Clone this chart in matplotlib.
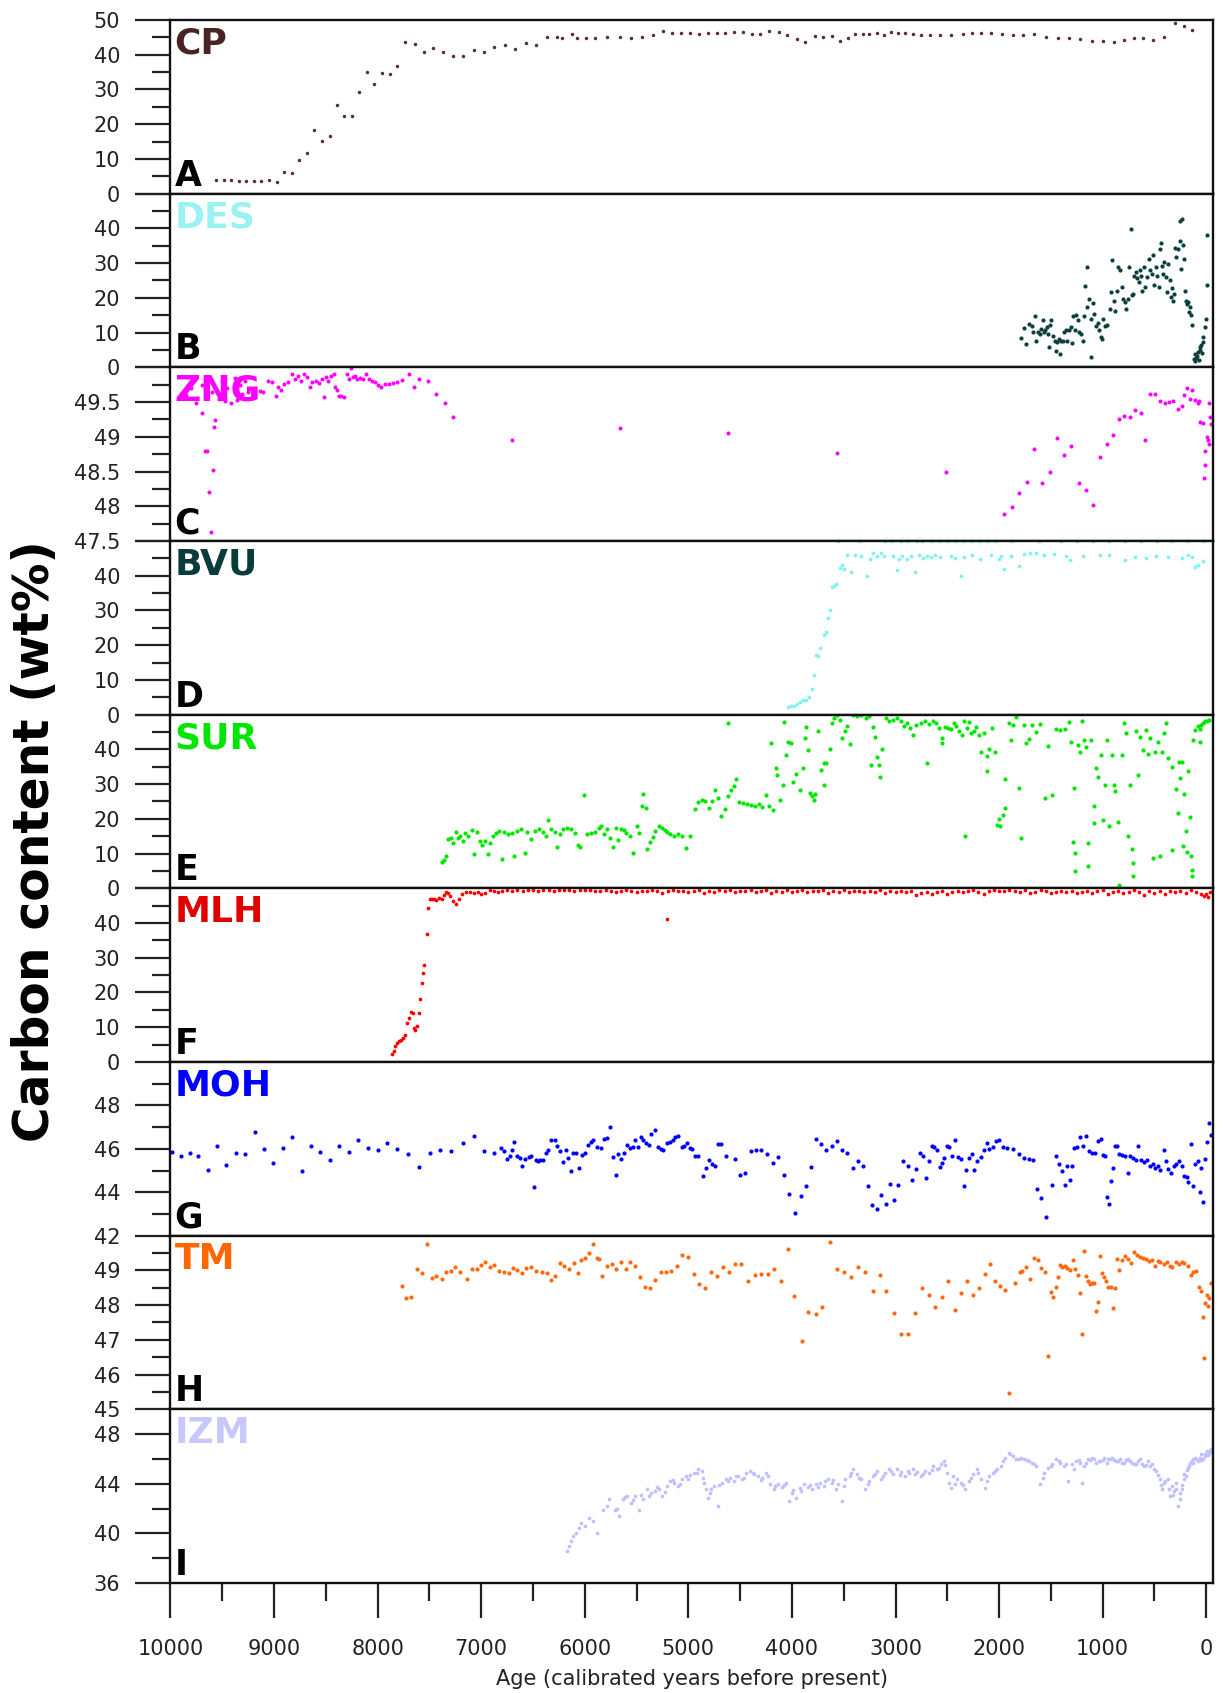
import matplotlib
matplotlib.use("Agg")
import matplotlib.pyplot as plt
from matplotlib.ticker import FixedLocator

plt.rcParams["font.family"] = ["DejaVu Sans"]

# ---------------------------------------------------------------- data
# age in calibrated years BP, carbon content in wt%

cp_age = [9561, 9488, 9416, 9343, 9270, 9198, 9125, 9045, 8969, 8904, 8827, 8759, 8682,
          8610, 8541, 8464, 8396, 8323, 8250, 8182, 8105, 8037, 7960, 7884, 7811, 7731,
          7643, 7555, 7464, 7368, 7273, 7177, 7074, 6975, 6872, 6772, 6669, 6570, 6470,
          6367, 6268, 6222, 6127, 6077, 5989, 5905,
          5787, 5664, 5549, 5449, 5345, 5249, 5161, 5073, 4980, 4896, 4815, 4727, 4643,
          4558, 4474, 4389, 4305, 4220, 4128, 4044, 3955, 3871, 3782, 3702, 3617, 3533,
          3456, 3387, 3318, 3252, 3183, 3114, 3041, 2976, 2907, 2830, 2753, 2669, 2573,
          2465, 2346, 2262, 2170, 2074, 1974, 1870, 1766, 1659, 1548, 1436, 1329, 1217,
          1102, 995, 895, 795, 699, 607, 515, 403, 303, 219, 134]
cp_carbon = [4.0, 3.9, 3.9, 3.7, 3.5, 3.6, 3.6, 3.9, 3.4, 6.3, 5.8, 9.8, 11.8,
             18.3, 15.1, 16.7, 25.6, 22.3, 22.3, 29.3, 35.1, 31.7, 34.6, 34.4, 36.7, 43.7,
             43.0, 40.8, 41.9, 40.7, 39.6, 39.6, 41.5, 40.7, 42.2, 42.9, 41.6, 43.3, 42.9,
             45.2, 45.2, 44.7, 45.9, 44.7, 44.7, 44.7,
             45.2, 45.2, 44.9, 45.1, 45.8, 46.8, 46.2, 46.2, 46.2, 45.9, 46.3, 46.3, 46.3,
             46.4, 46.4, 45.9, 45.9, 46.8, 46.6, 45.7, 44.4, 43.8, 45.4, 45.0, 45.4, 44.0,
             44.8, 45.9, 46.1, 46.1, 46.2, 45.8, 46.4, 46.2, 46.3, 45.9, 45.6, 45.6, 45.6,
             45.6, 46.1, 46.3, 46.3, 46.3, 46.0, 45.7, 45.8, 45.9, 45.2, 44.9, 44.7, 44.4,
             43.9, 43.9, 43.8, 44.3, 44.7, 44.7, 44.2, 45.1, 49.0, 48.3, 47.1]

des_age = [1786, 1763, 1736, 1716, 1686, 1670, 1651, 1640, 1624, 1609, 1594, 1578, 1571,
           1555, 1540, 1524, 1509, 1494, 1517, 1478, 1463, 1455, 1440, 1425, 1409, 1402,
           1386, 1371, 1356, 1340, 1325, 1309, 1294, 1286, 1271, 1256, 1240, 1225, 1210,
           1194, 1179, 1171, 1156, 1148, 1133, 1117, 1110, 1094, 1079, 1064, 1048, 1033,
           1018, 1002, 995, 979, 956, 933, 918, 910, 895, 879, 864, 849, 833, 818, 803,
           787, 772, 757, 741, 730, 718, 703, 695, 680, 664, 649, 641, 626, 618, 603, 588,
           572, 557, 541, 526, 511, 503, 488, 472, 457, 449, 434, 426, 419, 403, 388, 380,
           365, 349, 342, 334, 319, 311, 303, 288, 273, 257, 250, 242, 234, 227, 219, 204,
           196, 188, 173, 165, 157, 150, 134, 119, 111, 104, 96, 88, 81, 73, 65, 58, 50,
           42, 35, 27, 12, 4, -4, -12]
des_carbon = [8.5, 11.2, 6.7, 12.5, 12.0, 10.1, 14.9, 7.7, 10.3, 9.6, 11.1, 13.5, 10.1,
              10.8, 11.5, 9.6, 12.3, 13.7, 5.8, 9.1, 7.7, 4.6, 7.2, 8.2, 3.8, 7.5,
              7.7, 10.1, 10.6, 7.5, 10.8, 11.7, 6.9, 14.9, 10.6, 15.2, 13.5, 10.1, 9.6,
              7.5, 14.9, 23.3, 17.5, 28.8, 19.7, 3.1, 13.9, 18.5, 15.4, 12.0, 12.7, 10.6,
              8.7, 8.2, 13.9, 12.0, 12.3, 16.8, 21.6, 30.8, 19.2, 16.3, 22.1, 28.8, 27.9,
              23.1, 19.7, 18.8, 16.8, 19.7, 28.8, 39.9, 20.7, 21.2, 26.4, 27.4, 25.8, 24.5,
              27.9, 26.4, 22.1, 28.8, 23.1, 26.0, 31.3, 27.9, 26.9, 32.2, 23.6, 28.8, 26.4,
              23.1, 34.1, 35.9, 29.3, 26.9, 30.3, 26.0, 21.6, 29.8, 25.0, 20.2, 22.9, 19.2,
              21.2, 34.4, 31.7, 34.1, 36.3, 42.1, 28.4, 42.8, 35.1, 31.3, 22.1, 19.2, 18.1,
              18.8, 15.9, 17.3, 15.2, 12.3, 2.4, 1.8, 3.8, 2.7, 3.2, 4.3, 2.1, 5.8, 4.9,
              6.3, 4.0, 7.2, 8.7, 11.7, 13.9, 23.6, 38.0]

zng_age = [9850, 9800, 9700, 9600, 9500, 9450, 9380, 9330, 9280,
           9756, 9694, 9668, 9649, 9591, 9572, 9584, 9629, 9610,
           9534, 9477, 9419, 9362, 9305, 9247, 9190, 9133, 9102, 9056, 9018, 8980, 8961,
           8934, 8904, 8865, 8827, 8797, 8770, 8743, 8713, 8682, 8655, 8636, 8598, 8568,
           8541, 8522, 8503, 8476, 8453, 8426, 8407, 8388, 8377, 8350, 8323, 8292, 8273,
           8254, 8235, 8216, 8197, 8170, 8140, 8109, 8082, 8056, 8025, 7995, 7968, 7930,
           7891, 7853, 7815, 7765, 7700, 7651, 7597, 7509, 7433, 7349, 7269, 6707,
           5664, 4616, 3567, 2515, 1955, 1878, 1805, 1732, 1659, 1586, 1513, 1444, 1371,
           1302, 1233, 1164, 1098, 1029, 960, 899, 845, 791, 737, 684, 634, 588, 541, 495,
           445, 396, 357, 323, 276, 238, 211, 188, 157, 134, 111, 84, 73, -23, 58, 35,
           -38, -50, -4, -19, -31, 12, 8, 19]
zng_carbon = [49.60, 49.70, 49.75, 49.65, 49.80, 49.70, 49.85, 49.75, 49.80,
              49.48, 49.34, 48.80, 48.80, 48.52, 49.24, 49.14, 48.21, 47.63,
              49.55, 49.52, 49.49, 49.53, 49.62, 49.64, 49.69, 49.66, 49.64, 49.81, 49.79,
              49.58, 49.71, 49.68, 49.76, 49.79, 49.91, 49.83, 49.88, 49.81, 49.90, 49.86,
              49.72, 49.79, 49.81, 49.77, 49.83, 49.57, 49.86, 49.80, 49.88, 49.90, 49.72,
              49.68, 49.58, 49.58, 49.57, 49.90, 49.83, 49.99, 49.86, 49.87, 49.83, 49.85,
              49.83, 49.90, 49.83, 49.80, 49.79, 49.74, 49.71, 49.76, 49.76, 49.77, 49.79,
              49.82, 49.90, 49.72, 49.83, 49.80, 49.61, 49.49, 49.28, 48.96,
              49.12, 49.06, 48.77, 48.50, 47.89, 47.99, 48.19, 48.35, 48.82, 48.33, 48.50,
              48.98, 48.74, 48.87, 48.34, 48.23, 48.02, 48.71, 48.90, 49.03, 49.25, 49.30,
              49.28, 49.38, 49.34, 48.95, 49.61, 49.61, 49.52, 49.49, 49.50, 49.52, 49.40,
              49.44, 49.60, 49.70, 49.54, 49.67, 49.53, 49.48, 49.52, 49.48, 49.21, 49.20,
              49.29, 49.19, 49.00, 48.95, 48.90, 48.80, 48.60, 48.40]

bvu_age = [4040, 4013, 3982, 3955, 3924, 3898, 3867, 3840, 3809, 3790, 3771, 3752, 3725,
           3694, 3675, 3656, 3636, 3617, 3590, 3571, 3540, 3521, 3494, 3464, 3425, 3387,
           3329, 3272, 3245, 3214, 3176, 3137, 3107, 3022, 2984, 2965, 2938, 2888, 2849,
           2811, 2772, 2734, 2696, 2657, 2619, 2569, 2465, 2427, 2369, 2339, 2266, 2185,
           2081, 2004, 1955, 1978, 1889, 1805, 1755, 1697, 1640, 1563, 1467, 1352, 1313,
           1187, 1025, 937, 783, 687, 584, 488, 372, 238, 173, 142, 111, 84, 27,
           3551, 3340, 3099, 3030, 2945, 2880, 2796, 2740, 2660, 2580, 2503, 2426, 2349,
           2273, 2196, 2120, 2043, 1880, 1613, 1401, 1248, 1094, 941, 787, 634, 480, 326,
           180, 20]
bvu_carbon = [2.1, 2.6, 2.6, 3.1, 3.6, 4.1, 4.3, 5.0, 7.4, 11.5, 17.1, 16.8, 19.3,
              22.9, 23.9, 27.8, 30.0, 36.7, 37.1, 37.7, 42.3, 43.2, 41.8, 46.1, 41.0, 46.1,
              45.6, 40.0, 44.9, 46.4, 45.6, 46.6, 45.6, 45.6, 41.6, 44.9, 45.8, 44.7, 45.6,
              41.0, 46.1, 45.2, 45.6, 45.4, 46.1, 45.4, 45.6, 45.2, 40.0, 45.4, 46.1, 44.7,
              46.1, 44.7, 41.8, 45.8, 45.6, 42.9, 46.3, 46.4, 46.6, 46.1, 46.3, 45.6, 44.5,
              45.6, 46.1, 46.1, 44.5, 45.4, 45.2, 45.8, 45.4, 45.2, 46.1, 45.4, 42.5, 43.2, 44.2,
              49.9, 49.9, 49.9, 49.9, 49.9, 49.9, 49.9, 49.9, 49.9, 49.9, 49.9, 49.9, 49.9,
              49.9, 49.9, 49.9, 49.9, 49.9, 49.9, 49.9, 49.9, 49.9, 49.9, 49.9, 49.9, 49.9,
              49.9, 49.9, 49.9]

sur_age = [7383, 7357, 7337, 7318, 7292, 7269, 7242, 7223, 7204, 7177, 7154, 7127, 7089,
           7070, 7040, 7013, 6994, 6963, 6937, 6917, 6887, 6860, 6833, 6803, 6784, 6746,
           6707, 6688, 6650, 6612, 6581, 6554, 6516, 6478, 6440, 6402, 6375, 6352, 6325,
           6287, 6268, 6237, 6210, 6172, 6134, 6096, 6069, 6046, 6008, 5981, 5943, 5905,
           5867,
           5844, 5817, 5787, 5756, 5729, 5702, 5679, 5652, 5626, 5603, 5564, 5530, 5499,
           5480, 5449, 5434, 5411, 5396, 5372, 5345, 5319, 5288, 5257, 5230, 5203, 5173,
           5134, 5096, 5058, 5019, 4980, 4934, 4904, 4873, 4835, 4796, 4769, 4742, 4712,
           4681, 4643, 4616, 4616, 4589, 4558, 4539, 4512, 4474, 4435, 4397, 4359, 4320,
           4289, 4251, 4220, 4182, 4205, 4155, 4144, 4116, 4090, 4078, 4059, 4040, 4013,
           3990, 3963, 3924, 3898, 3875, 3867, 3848, 3829, 3809, 3790, 3782, 3752, 3721,
           3694, 3667, 3694, 3636, 3617, 3590, 3567, 3540, 3521, 3490, 3464, 3437, 3406,
           3368, 3329, 3283, 3252, 3233, 3214, 3195, 3176, 3157, 3145, 3130, 3091, 3061,
           3022, 2984, 2945, 2915, 2888, 2861, 2830, 2799, 2753, 2696, 2715, 2677, 2638,
           2607, 2580, 2553, 2553, 2523, 2496, 2465, 2438, 2415, 2388, 2361, 2338, 2331,
           2312, 2292, 2273, 2246, 2223, 2196, 2170, 2146, 2120, 2120, 2101, 2070, 2043,
           2024, 2004, 1993, 1966, 1947, 1939, 1909, 1889, 1862, 1839, 1812, 1786, 1755,
           1736, 1709, 1678, 1648, 1602, 1555, 1525, 1486, 1455, 1409, 1363, 1325, 1302,
           1286, 1275, 1263, 1263, 1240, 1221, 1202, 1183, 1164, 1137, 1137, 1114, 1087,
           1087, 1064, 1045, 1018, 995, 979, 956, 941, 910, 891, 879, 852, 841, 814, 795,
           775, 757, 737, 718, 711, 703, 680, 660, 641, 610, 584, 565, 545, 518, 495, 468,
           449, 430, 411, 391, 365, 334, 326, 296, 276, 265, 250, 238, 227, 211, 200, 188,
           173, 161, 150, 142, 134, 123, 104, 84, 65, 46, 27, 8, -12, -31, 58]
sur_carbon = [7.7, 8.1, 9.3, 14.1, 14.6, 13.1, 16.2, 14.6, 15.2, 13.6, 16.0, 15.0, 16.8,
              9.8, 16.2, 13.6, 12.6, 13.6, 9.8, 13.1, 15.0, 16.0, 16.5, 8.3, 16.2, 15.5,
              16.0, 9.3, 16.5, 17.0, 10.3, 16.2, 14.1, 16.5, 17.0, 16.2, 15.2, 19.8, 17.0,
              16.2, 12.0, 15.5, 17.0, 17.4, 17.1, 15.8, 12.6, 12.0, 27.0, 15.5, 16.0, 16.2,
              17.4,
              18.0, 15.5, 17.0, 14.6, 11.9, 17.5, 13.9, 17.0, 16.8, 16.0, 15.2, 10.2, 17.8,
              16.0, 23.8, 27.2, 23.0, 11.4, 13.3, 14.9, 16.5, 17.8, 17.5, 16.8, 16.2, 15.5,
              15.2, 15.5, 15.2, 11.7, 15.2, 22.8, 24.8, 25.5, 25.0, 23.0, 25.0, 28.2, 25.9,
              20.9, 22.8, 47.6, 26.5, 28.2, 29.4, 31.4, 24.8, 24.6, 24.3, 24.0, 23.8, 24.3,
              23.3, 26.9, 23.8, 22.6, 41.8, 34.5, 32.5, 25.5, 29.6, 47.9, 38.5, 42.2, 41.8,
              30.6, 33.0, 28.2, 34.7, 43.2, 46.3, 39.8, 27.5, 26.5, 25.5, 27.2, 45.2, 34.0,
              36.0, 36.0, 29.6, 40.0, 47.6, 49.0, 49.8, 48.5, 43.4, 45.3, 46.6, 41.5, 49.8,
              49.5, 49.8, 49.0, 49.5, 35.6, 46.3, 43.7, 37.9, 35.4, 32.0, 40.1, 49.0, 48.3,
              48.5, 49.0, 48.3, 46.6, 47.6, 46.1, 44.2, 47.1, 47.6, 36.2, 48.1, 47.3, 48.1,
              47.6, 46.1, 43.4, 41.8, 46.3, 46.1, 45.9, 47.6, 46.6, 45.2, 44.0, 48.3, 15.1,
              46.1, 47.9, 44.7, 45.3, 46.3, 44.0, 39.3, 44.7, 38.2, 33.7, 40.1, 46.1, 39.3,
              18.2, 19.9, 17.8, 21.1, 23.0, 31.4, 47.6, 42.7, 46.9, 49.2, 28.8, 14.6, 46.9,
              41.8, 43.0, 47.1, 45.0, 47.3, 25.9, 41.1, 26.9, 45.9, 45.6, 45.9, 47.9, 42.2,
              13.3, 28.8, 10.2, 5.1, 41.3, 39.3, 48.1, 42.7, 40.8, 12.9, 6.3, 42.7, 23.8,
              18.9, 34.5, 32.0, 38.4, 19.7, 29.8, 42.7, 18.0, 38.4, 29.8, 27.9, 19.1, 1.0,
              38.4, 47.6, 44.7, 15.1, 29.6, 11.2, 7.3, 3.4, 45.2, 32.5, 43.7, 39.8, 45.6,
              38.8, 43.2, 8.7, 39.3, 42.2, 9.4, 39.3, 44.7, 47.6, 37.4, 10.9, 35.0, 28.6,
              21.8, 36.4, 31.8, 36.4, 12.1, 27.2, 16.5, 10.4, 33.7, 20.4, 9.2, 5.3, 3.4,
              42.7, 45.6, 46.6, 45.9, 47.1, 47.6, 48.1, 48.1, 48.5, 42.0]

mlh_age = [7861, 7846, 7834, 7815, 7796, 7777, 7758, 7739, 7720, 7697, 7681, 7662, 7651,
           7635, 7620, 7605, 7590, 7574, 7559, 7548, 7528, 7509, 7490, 7471, 7452, 7433,
           7406, 7383, 7357, 7337, 7318, 7299, 7269, 7242, 7215, 7185, 7146, 7108, 7070,
           7032, 7001, 6963, 6917, 6879, 6841, 6803, 5203,
           6750, 6700, 6650, 6600, 6550, 6500, 6450, 6400, 6350, 6300, 6250, 6200, 6150,
           6100, 6050, 6000, 5950, 5900, 5850, 5800, 5750, 5700, 5650, 5600, 5550, 5500,
           5450, 5400, 5350, 5300, 5250, 5200, 5150, 5100, 5050, 5000, 4950, 4900, 4850,
           4800, 4750, 4700, 4650, 4600, 4550, 4500, 4450, 4400, 4350, 4300, 4250, 4200,
           4150, 4100, 4050, 4000, 3950, 3900, 3850, 3800, 3750, 3700, 3650, 3600, 3550,
           3500, 3450, 3400, 3350, 3300, 3250, 3200, 3150, 3100, 3050, 3000, 2950, 2900,
           2850, 2800, 2750, 2700, 2650, 2600, 2550, 2500, 2450, 2400, 2350, 2300, 2250,
           2200, 2150, 2100, 2050, 2000, 1950, 1900, 1850, 1800, 1750, 1700, 1650, 1600,
           1550, 1500, 1450, 1400, 1350, 1300, 1250, 1200, 1150, 1100, 1050, 1000, 950,
           900, 850, 800, 750, 700, 650, 600, 550, 500, 450, 400, 350, 300, 250, 200, 150,
           100, 50, 25, 0, -20, -40]
mlh_carbon = [2.3, 3.1, 4.5, 5.5, 6.0, 6.4, 6.9, 7.9, 11.3, 12.7, 14.3, 14.1, 9.8,
              9.3, 10.3, 14.1, 18.0, 22.6, 25.7, 27.8, 36.7, 44.3, 46.8, 47.0, 46.8, 46.6,
              47.3, 46.8, 48.0, 49.0, 48.6, 47.8, 46.4, 45.4, 46.8, 48.3, 48.8, 49.0, 48.6,
              48.8, 48.3, 48.6, 49.5, 49.3, 48.8, 49.3, 41.3,
              49.4, 49.2, 49.5, 49.3, 49.4, 49.6, 49.3, 49.5, 49.4, 49.3, 49.5, 49.4, 49.6,
              49.3, 49.5, 49.4, 49.6, 49.3, 49.2, 49.4, 49.1, 48.9, 49.3, 49.4, 49.2, 48.8,
              49.3, 49.1, 49.4, 49.2, 48.7, 49.3, 49.4, 49.1, 49.3, 48.9, 49.2, 49.4, 48.6,
              49.3, 49.0, 49.4, 49.2, 49.5, 48.8, 49.3, 49.1, 49.4, 48.9, 49.2, 49.5, 48.7,
              49.3, 49.0, 49.4, 48.9, 49.2, 49.4, 48.8, 49.3, 49.1, 49.4, 48.7, 49.2, 49.0,
              49.4, 48.9, 49.3, 49.1, 48.8, 49.3, 49.0, 49.4, 48.7, 49.2, 49.0, 49.3, 48.8,
              49.1, 48.2, 48.6, 49.0, 48.3, 48.8, 49.2, 48.5, 49.0, 49.3, 48.8, 49.1, 49.4,
              49.0, 48.4, 49.2, 49.4, 49.1, 49.3, 49.5, 49.2, 48.9, 49.4, 48.6, 48.9, 49.5,
              49.2, 48.7, 49.0, 49.3, 48.8, 49.1, 48.6, 49.0, 49.3, 48.7, 49.1, 49.4, 48.4,
              49.0, 49.3, 48.6, 49.0, 49.4, 48.8, 48.1, 49.2, 48.7, 49.1, 48.5, 49.3, 48.8,
              49.2, 48.6, 49.5, 49.0, 48.4, 47.8, 48.5, 47.6, 48.9]

moh_age = [9985, 9897, 9813, 9733, 9641, 9553, 9461, 9370, 9278, 9186, 9095, 9007, 8915,
           8823, 8732, 8640, 8552, 8461, 8369, 8277, 8186, 8090, 7998, 7907, 7811, 7708,
           7605, 7498, 7395, 7288, 7177, 7074, 6971, 6872, 6810, 6784, 6753, 6726, 6700,
           6680, 6658, 6627, 6604, 6574, 6543, 6516, 6489, 6474, 6451, 6428, 6402, 6375,
           6352, 6325, 6287, 6268, 6237, 6210, 6184, 6161, 6134, 6115, 6085, 6058, 6031,
           6000, 5970, 5943, 5916, 5886,
           5844, 5817, 5787, 5756, 5729, 5702, 5679, 5652, 5626, 5595, 5564, 5537, 5511,
           5488, 5461, 5434, 5411, 5384, 5357, 5326, 5296, 5269, 5242, 5211, 5180, 5153,
           5126, 5096, 5065, 5038, 5011, 4988, 4961, 4934, 4904, 4858, 4827, 4796, 4769,
           4742, 4712, 4681, 4635, 4551, 4501, 4451, 4397, 4347, 4297, 4243, 4186, 4136,
           4078, 4028, 3974, 3917, 3867, 3817, 3771, 3721, 3667, 3617, 3567, 3513, 3464,
           3414, 3360, 3310, 3264, 3226, 3183, 3137, 3091, 3053, 3014, 2972, 2926, 2884,
           2842, 2803, 2761, 2734, 2707, 2677, 2650, 2627, 2600, 2569, 2553, 2530, 2503,
           2484, 2454, 2427, 2400, 2369, 2338, 2315, 2288, 2266, 2239, 2212, 2177, 2147,
           2120, 2093, 2062, 2031, 2004, 1966, 1928, 1870, 1812, 1755, 1709, 1671, 1632,
           1594, 1544, 1486, 1448, 1417, 1390, 1363, 1340, 1313, 1294, 1275, 1248, 1217,
           1187, 1160, 1133, 1102, 1071, 1045, 1018, 995, 979, 956, 941, 918, 902, 879,
           864, 841, 814, 787, 757, 737, 711, 680, 660, 634, 603, 572, 545, 518, 495, 468,
           442, 411, 391, 365, 342, 315, 288, 265, 238, 211, 188, 173, 150, 123, 104, 84,
           65, 46, 27, 8, -4, -31, -50]
moh_carbon = [45.84, 45.65, 45.81, 45.65, 45.04, 46.15, 45.24, 45.81, 45.78, 46.78, 45.99,
              45.33, 46.05, 46.53, 44.97, 46.11, 45.87, 45.50, 46.11, 45.87, 46.41, 46.05,
              45.96, 46.28, 45.98, 45.76, 45.16, 45.81, 45.94, 45.90, 46.27, 46.58, 45.91,
              45.81, 46.04, 45.88, 45.54, 45.65, 45.96, 46.30, 45.65, 45.58, 45.19, 45.54,
              45.62, 45.68, 44.23, 45.50, 45.42, 45.50, 45.50, 45.81, 45.96, 46.39, 46.39,
              46.11, 45.88, 45.38, 45.96, 45.58, 44.96, 45.81, 45.81, 45.11, 45.73, 45.81,
              46.19, 46.30, 46.42, 46.08,
              46.04, 46.45, 46.50, 47.01, 45.62, 44.80, 45.78, 45.53, 45.81, 46.19, 46.04,
              46.08, 46.39, 46.08, 46.55, 46.42, 46.27, 46.19, 46.70, 46.85, 46.08, 45.99,
              45.96, 46.27, 46.30, 46.42, 46.55, 46.58, 46.08, 46.11, 46.27, 46.04, 45.99,
              45.65, 45.65, 44.73, 45.11, 45.50, 45.31, 45.22, 46.24, 46.24, 45.65, 45.53,
              44.80, 44.88, 45.88, 45.96, 45.96, 45.78, 45.34, 45.62, 44.80, 43.93, 43.06,
              43.83, 44.30, 45.16, 46.45, 46.24, 45.96, 46.15, 46.35, 45.96, 45.81, 45.11,
              45.42, 45.19, 44.30, 43.42, 43.22, 43.88, 43.46, 44.39, 43.62, 44.33, 45.42,
              45.19, 44.57, 45.07, 45.81, 45.65, 44.65, 45.42, 46.15, 46.08, 45.93, 45.16,
              45.34, 45.58, 46.15, 46.08, 45.65, 46.42, 45.62, 45.53, 44.27, 45.04, 45.58,
              45.78, 45.04, 45.42, 45.62, 45.96, 46.27, 45.99, 46.08, 46.35, 46.39, 46.08,
              46.04, 45.99, 45.78, 45.58, 45.53, 45.50, 44.14, 43.73, 42.85, 44.34, 45.65,
              45.31, 45.00, 44.34, 45.19, 44.54, 45.19, 46.04, 46.08, 46.55, 46.15, 46.61,
              45.88, 45.81, 45.81, 46.35, 46.45, 45.73, 45.65, 43.77, 43.46, 44.50, 45.11,
              46.15, 46.11, 45.78, 45.73, 45.65, 44.88, 45.65, 45.58, 45.50, 46.15, 45.50,
              45.38, 45.50, 45.22, 45.31, 45.11, 45.22, 45.04, 45.93, 45.42, 45.07, 44.88,
              45.19, 45.31, 45.42, 45.19, 44.76, 44.70, 44.45, 46.24, 44.30, 45.31, 45.42,
              43.99, 45.11, 43.57, 45.53, 46.30, 47.19, 46.65]

tm_age = [7765, 7727, 7674, 7624, 7574, 7528, 7471, 7433, 7383, 7337, 7292, 7253, 7204,
          7139, 7089, 7040, 7001, 6963, 6917, 6872, 6833, 6784, 6734, 6696, 6650, 6604,
          6566, 6516, 6467, 6413, 6363, 6325, 6287, 6237, 6199, 6153, 6107, 6069, 6039,
          6000, 5962, 5924, 5878,
          5864, 5833, 5787, 5741, 5702, 5652, 5603, 5564, 5518, 5468, 5422, 5372, 5326,
          5269, 5219, 5165, 5111, 5058, 5000, 4950, 4896, 4835, 4781, 4719, 4662, 4604,
          4551, 4489, 4424, 4359, 4297, 4232, 4174, 4105, 4040, 3982, 3905, 3844, 3771,
          3706, 3636, 3567, 3502, 3425, 3360, 3291, 3222, 3153, 3088, 3018, 2945, 2876,
          2811, 2746, 2677, 2615, 2553, 2492, 2427, 2369, 2311, 2254, 2196, 2139, 2089,
          2043, 1993, 1947, 1901, 1851, 1801, 1774, 1736, 1697, 1659, 1620, 1594, 1555,
          1525, 1494, 1478, 1455, 1428, 1409, 1390, 1363, 1340, 1313, 1286, 1263, 1236,
          1217, 1198, 1179, 1160, 1141, 1122, 1102, 1083, 1064, 1045, 1025, 1006, 987,
          968, 948, 918, 899, 879, 864, 841, 814, 787, 757, 726, 699, 672, 641, 611, 584,
          557, 526, 495, 468, 442, 411, 380, 353, 326, 296, 265, 238, 211, 180, 150, 123,
          96, 73, 46, 27, 19, 8, -12, -31, -50, -19]
tm_carbon = [48.55, 48.19, 48.24, 49.05, 48.92, 49.75, 48.77, 48.84, 48.74, 48.94, 48.99,
             49.11, 48.96, 48.75, 49.03, 49.03, 49.16, 49.25, 49.09, 49.16, 48.99, 48.96,
             48.92, 49.06, 49.01, 48.92, 49.06, 49.11, 48.99, 48.96, 48.92, 48.72, 48.84,
             49.20, 49.13, 49.03, 49.22, 48.92, 49.30, 49.35, 49.51, 49.76, 49.35,
             49.32, 48.84, 49.13, 49.19, 49.03, 49.25, 49.03, 49.25, 49.13, 48.80, 48.51,
             48.48, 48.72, 48.94, 48.96, 48.99, 49.13, 49.44, 49.38, 48.90, 48.61, 48.48,
             48.94, 48.84, 49.09, 48.94, 49.19, 49.19, 48.68, 48.87, 48.90, 48.90, 49.03,
             48.68, 49.61, 48.26, 46.98, 47.79, 47.75, 47.94, 49.83, 49.03, 48.94, 48.82,
             49.09, 48.96, 48.42, 48.87, 48.42, 47.76, 47.17, 47.17, 47.76, 48.48, 48.29,
             47.94, 48.23, 48.68, 47.86, 48.34, 48.68, 48.29, 48.48, 48.90, 49.19, 48.68,
             48.55, 48.44, 45.46, 48.63, 48.94, 48.99, 49.11, 48.74, 49.35, 49.30, 49.06,
             48.94, 46.52, 48.39, 48.24, 48.53, 48.80, 49.16, 49.09, 49.13, 49.06, 49.01,
             49.30, 49.03, 48.87, 48.34, 47.17, 49.57, 48.84, 48.68, 48.61, 48.65, 48.65,
             47.84, 48.10, 49.42, 48.92, 48.82, 48.68, 48.53, 48.53, 47.91, 48.48, 49.32,
             49.01, 49.30, 49.42, 49.32, 49.22, 49.54, 49.44, 49.38, 49.35, 49.32, 49.28,
             49.30, 49.13, 49.28, 49.25, 49.19, 49.25, 49.13, 49.11, 49.25, 49.19, 49.25,
             49.22, 49.13, 48.87, 48.94, 48.99, 48.51, 48.42, 47.67, 46.47, 48.05, 48.29,
             48.20, 48.65, 47.96]

izm_age = [6173, 6153, 6134, 6115, 6085, 6058, 6039, 6001, 5963, 5924, 5886,
           5825, 5768, 5710, 5672, 5633, 5595, 5556, 5518, 5480, 5441, 5403, 5365, 5326,
           5288, 5250, 5211, 5173, 5134, 5096, 5058, 5019, 4980, 4942, 4904, 4873, 4846,
           4827, 4808, 4788, 4750, 4712, 4673, 4635, 4597, 4558, 4520, 4481, 4443, 4405,
           4366, 4328, 4289, 4251, 4212, 4174, 4136, 4097, 4059, 4028, 4001, 3963, 3924,
           3886, 3848, 3809, 3771, 3733, 3694, 3656, 3617, 3579, 3560, 3521, 3483, 3444,
           3406, 3368, 3329, 3291, 3252, 3214, 3176, 3137, 3099, 3061, 3022, 2984, 2945,
           2907, 2868, 2830, 2792, 2753, 2715, 2677, 2638, 2600, 2561, 2530, 2503, 2484,
           2465, 2446, 2408, 2369, 2331, 2292, 2254, 2216, 2177, 2139, 2101, 2062, 2024,
           1985, 1947, 1909, 1870, 1832, 1793, 1755, 1716, 1678, 1640, 1602, 1563, 1525,
           1486, 1448, 1409, 1371, 1332, 1294, 1256, 1217, 1198, 1179, 1141, 1102, 1064,
           1025, 987, 948, 910, 872, 833, 795, 757, 718, 680, 641, 603, 565, 526, 488, 449,
           430, 411, 372, 353, 334, 315, 296, 276, 257, 238, 219, 200, 180, 161, 142, 123,
           104, 84, 65, 46, 27, 8, -12, -31, -50,
           5790, 5690, 5610, 5530, 5460, 5380, 5300, 5230, 5150, 5080, 5000, 4920, 4860,
           4780, 4700, 4620, 4540, 4460, 4380, 4300, 4230, 4160, 4080, 3990, 3910, 3830,
           3750, 3680, 3600, 3500, 3430, 3350, 3270, 3200, 3120, 3040, 2960, 2880, 2810,
           2730, 2650, 2580, 2520, 2430, 2350, 2270, 2200, 2120, 2040, 1960, 1890, 1810,
           1730, 1660, 1580, 1500, 1420, 1350, 1280, 1230, 1160, 1120, 1080, 1040, 1000,
           960, 930, 890, 850, 810, 770, 740, 700, 660, 620, 580, 540, 500, 470, 440, 400,
           360, 320, 290, 250, 230, 210, 190, 170, 130, 95, 55, 15, -20, -40]
izm_carbon = [38.56, 38.96, 39.37, 39.77, 40.04, 40.44, 40.85, 40.58, 41.25, 40.98, 40.04,
              41.92, 42.73, 41.92, 41.38, 42.73, 43.00, 42.46, 43.00, 41.92, 42.73, 43.54,
              43.27, 43.40, 43.54, 43.00, 43.81, 44.21, 44.08, 43.81, 44.35, 44.61, 44.67,
              44.88, 45.15, 45.02, 44.08, 43.54, 42.86, 43.27, 43.81, 42.19, 44.08, 44.35,
              44.48, 44.21, 44.61, 44.35, 44.83, 45.02, 44.75, 44.61, 44.48, 44.83, 43.94,
              43.54, 43.94, 43.75, 44.08, 42.60, 43.27, 42.86, 43.67, 43.94, 43.75, 43.54,
              43.94, 44.08, 43.81, 44.35, 44.08, 43.54, 43.94, 42.60, 44.35, 44.61, 45.15,
              44.75, 44.35, 43.54, 44.21, 44.61, 45.02, 44.35, 44.88, 45.15, 44.75, 45.15,
              44.94, 44.61, 44.83, 45.15, 44.94, 44.61, 45.02, 44.88, 45.42, 45.15, 45.56,
              45.83, 44.88, 44.08, 43.67, 44.61, 44.35, 44.08, 43.54, 44.21, 44.75, 45.15,
              44.35, 43.67, 44.61, 44.88, 45.15, 45.42, 46.10, 46.50, 46.23, 45.96, 46.10,
              45.96, 45.83, 45.69, 45.42, 43.94, 44.88, 45.29, 45.56, 45.96, 45.69, 45.42,
              44.21, 45.56, 45.83, 45.69, 44.08, 45.42, 45.96, 46.10, 45.69, 45.83, 46.10,
              45.96, 46.10, 45.83, 45.96, 45.69, 45.96, 45.69, 45.56, 45.96, 45.42, 45.83,
              45.56, 45.02, 44.35, 43.54, 44.08, 44.35, 43.00, 43.81, 43.40, 44.08, 42.19,
              43.27, 43.54, 44.35, 44.61, 45.29, 45.69, 45.83, 45.96, 46.10, 45.83, 46.10,
              46.36, 45.96, 46.23, 46.63, 46.50, 46.77,
              42.2, 42.0, 42.9, 42.7, 43.1, 43.0, 43.7, 43.3, 44.3, 44.0, 44.4, 44.9, 44.5,
              43.6, 43.9, 44.2, 44.6, 44.5, 44.9, 44.3, 44.6, 43.8, 43.9, 43.5, 43.4, 43.9,
              43.7, 44.2, 44.3, 43.8, 44.9, 44.5, 44.0, 44.8, 44.6, 45.0, 44.7, 45.0, 44.8,
              44.8, 45.1, 45.3, 45.5, 44.0, 43.9, 44.5, 44.9, 44.2, 45.0, 45.8, 46.4, 46.0,
              45.9, 45.6, 44.5, 45.4, 45.8, 45.6, 45.2, 45.9, 45.7, 45.9, 46.0, 45.8, 45.9,
              45.7, 46.0, 45.9, 45.8, 45.7, 45.9, 45.8, 45.6, 45.8, 45.6, 45.5, 45.4, 45.2,
              44.7, 43.9, 44.2, 43.6, 43.1, 43.6, 42.8, 43.9, 44.8, 45.1, 45.4, 45.7, 46.0,
              45.9, 46.4, 46.3, 46.6]

site_names = ["CP", "DES", "ZNG", "BVU", "SUR", "MLH", "MOH", "TM", "IZM"]
panel_letters = ["A", "B", "C", "D", "E", "F", "G", "H", "I"]

# ---------------------------------------------------------------- styling
name_colors = ["#4a2424", "#99f3f3", "#ff00ff", "#0b3b3b", "#00e600",
               "#e00000", "#0000ff", "#ff6600", "#c8c8ff"]
dot_colors = ["#5c2e2e", "#0d3f3f", "#ff00ff", "#80f2f2", "#00e600",
              "#ff0000", "#0000ff", "#ff6a10", "#c0c0ff"]
dot_sizes = [2.5, 3.0, 2.9, 2.7, 3.0, 2.7, 3.0, 3.0, 2.7]

series = [(cp_age, cp_carbon), (des_age, des_carbon), (zng_age, zng_carbon),
          (bvu_age, bvu_carbon), (sur_age, sur_carbon), (mlh_age, mlh_carbon),
          (moh_age, moh_carbon), (tm_age, tm_carbon), (izm_age, izm_carbon)]

wt_major = [0, 10, 20, 30, 40, 50]
wt_minor = [5, 15, 25, 35, 45]
y_setup = [
    ((0, 50), wt_major, wt_minor),
    ((0, 50), wt_major, wt_minor),
    ((47.5, 50), [47.5, 48, 48.5, 49, 49.5, 50], [47.75, 48.25, 48.75, 49.25, 49.75]),
    ((0, 50), wt_major, wt_minor),
    ((0, 50), wt_major, wt_minor),
    ((0, 50), wt_major, wt_minor),
    ((42, 50), [42, 44, 46, 48], [43, 45, 47, 49]),
    ((45, 50), [45, 46, 47, 48, 49], [45.5, 46.5, 47.5, 48.5, 49.5]),
    ((36, 50), [36, 40, 44, 48], [38, 42, 46]),
]

age_major = [10000, 9000, 8000, 7000, 6000, 5000, 4000, 3000, 2000, 1000, 0]
age_minor = [9500, 8500, 7500, 6500, 5500, 4500, 3500, 2500, 1500, 500]

tick_color = "#222222"
px = 0.72  # points per pixel at 100 dpi

fig = plt.figure(figsize=(12.23, 16.93), dpi=100)
left, right, top, bottom = 0.1394, 0.9918, 0.9882, 0.0650
n = len(site_names)
h = (top - bottom) / n

for i in range(n):
    ax = fig.add_axes([left, top - (i + 1) * h, right - left, h])
    ages, carbon = series[i]
    ax.plot(ages, carbon, "o", ms=dot_sizes[i], mew=0, color=dot_colors[i], zorder=2)

    ax.set_xlim(10000, -65)
    (ylo, yhi), majors, minors = y_setup[i]
    ax.set_ylim(ylo, yhi)
    ax.yaxis.set_major_locator(FixedLocator(majors))
    ax.yaxis.set_minor_locator(FixedLocator(minors))
    labels = [f"{v:g}" for v in majors]
    if i > 0 and majors[-1] == yhi:
        labels[-1] = ""
    ax.set_yticklabels(labels)

    ax.tick_params(axis="y", which="major", direction="out", length=35 * px,
                   width=1.6, color=tick_color, pad=11, labelsize=15,
                   labelcolor=tick_color)
    ax.tick_params(axis="y", which="minor", direction="out", length=18 * px,
                   width=1.6, color=tick_color)

    if i == n - 1:
        ax.xaxis.set_major_locator(FixedLocator(age_major))
        ax.xaxis.set_minor_locator(FixedLocator(age_minor))
        ax.set_xticklabels([str(a) for a in age_major])
        ax.tick_params(axis="x", which="major", direction="out", length=35 * px,
                       width=1.6, color=tick_color, pad=15, labelsize=15,
                       labelcolor=tick_color)
        ax.tick_params(axis="x", which="minor", direction="out", length=18 * px,
                       width=1.6, color=tick_color)
    else:
        ax.tick_params(axis="x", which="both", bottom=False, labelbottom=False)

    for sp in ax.spines.values():
        sp.set_linewidth(1.7)
        sp.set_color("#111111")
        sp.set_zorder(3)

    ax.text(0.004, 0.962, site_names[i], transform=ax.transAxes, ha="left", va="top",
            fontsize=26, fontweight="bold", color=name_colors[i], zorder=4)
    ax.text(0.004, 0.045, panel_letters[i], transform=ax.transAxes, ha="left",
            va="baseline", fontsize=25, fontweight="bold", color="black", zorder=4)

fig.text(0.029, 0.503, "Carbon content (wt%)", rotation=90, ha="center", va="center",
         fontsize=35, fontweight="bold", color="black")
fig.text((left + right) / 2, 0.0083, "Age (calibrated years before present)",
         ha="center", va="center", fontsize=15, color=tick_color)

fig.savefig("out.png", dpi=100)
